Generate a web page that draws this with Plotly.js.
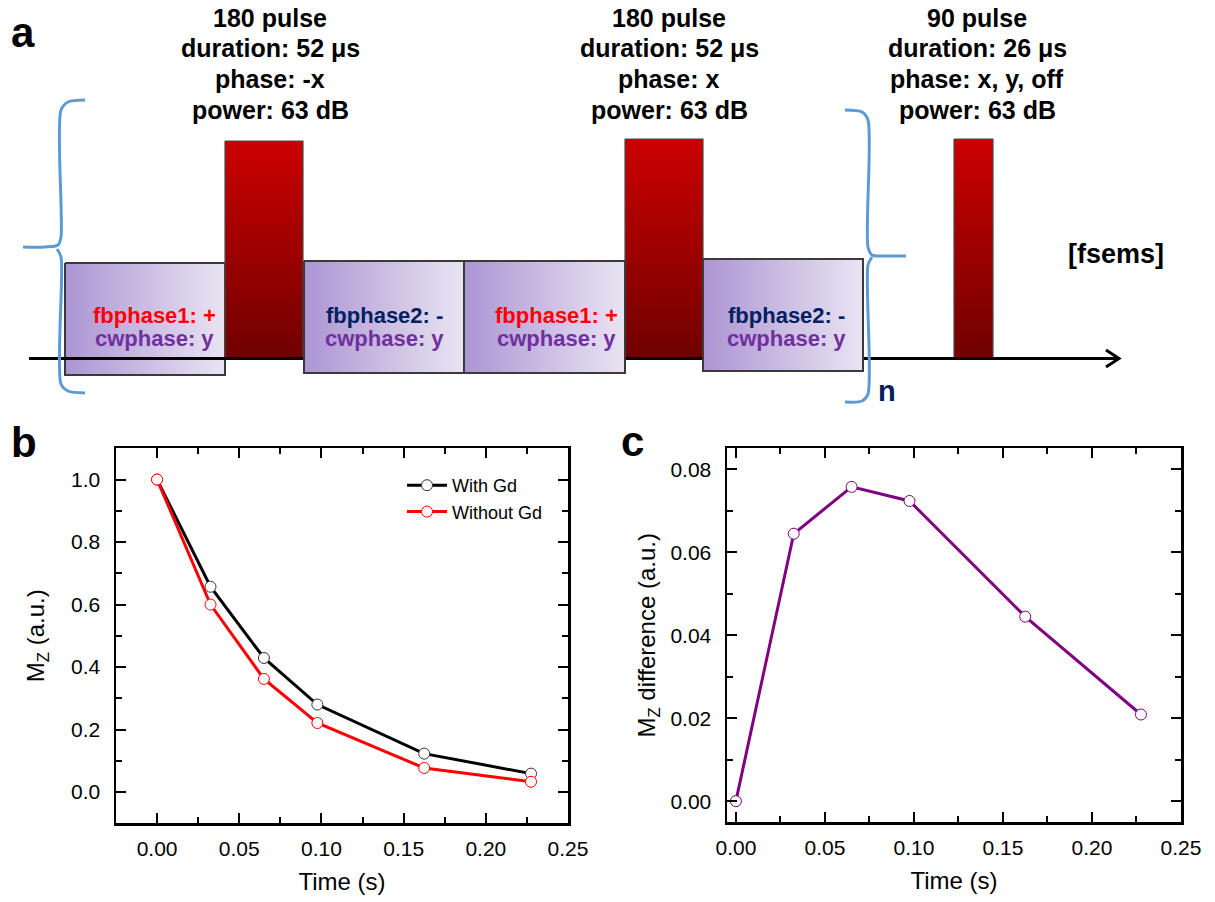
<!DOCTYPE html>
<html>
<head>
<meta charset="utf-8">
<script src="https://cdn.plot.ly/plotly-3.0.1.min.js"></script>
<style>
  html, body { margin: 0; padding: 0; background: #ffffff; }
  #chart { width: 1215px; height: 902px; }
</style>
</head>
<body>
<div id="chart"></div>
<script>
// ---------------- data (panels b and c) ----------------
const timeS        = [0, 0.0325, 0.065, 0.0975, 0.1625, 0.2275];
const mzWithGd     = [1.0, 0.657, 0.429, 0.280, 0.123, 0.059];
const mzWithoutGd  = [1.0, 0.600, 0.362, 0.221, 0.077, 0.033];
const mzDifference = [0, 0.0645, 0.0758, 0.0724, 0.0445, 0.0209];
const seriesNames  = ["With Gd", "Without Gd"];

// ---------------- text of panel a ----------------
const pulseTitles    = ["180 pulse", "180 pulse", "90 pulse"];
const pulseDurations = ["duration: 52 μs", "duration: 52 μs", "duration: 26 μs"];
const pulsePhases    = ["phase: -x", "phase: x", "phase: x, y, off"];
const pulsePowers    = ["power: 63 dB", "power: 63 dB", "power: 63 dB"];
const boxLine1       = ["fbphase1: +", "fbphase2: -", "fbphase1: +", "fbphase2: -"];
const boxLine2       = ["cwphase: y", "cwphase: y", "cwphase: y", "cwphase: y"];
const panelLetters   = ["a", "b", "c"];

// ---------------- diagram geometry (pixel-like coordinates of the sketch axis) ----------------
const geo = {
  pulses: [[225, 303, 141], [625, 703, 139], [954, 993, 139]],   // x0, x1, top
  pulseBase: 358,
  boxes: [[65, 225, 263, 375], [304, 464, 261, 373], [464, 625, 261, 373], [703, 863, 259, 371]],
  boxTextX: [154, 384, 556, 786],
  pulseTextX: [270, 669, 977],
  pulseTextY: [18, 48, 78.5, 109.5],
  boxTextY: [315.5, 338]
};

const FONT = "Liberation Sans, Arial, sans-serif";
const traces = [];

// ---- panel b ----
traces.push({
  x: timeS, y: mzWithGd, name: seriesNames[0], xaxis: "x", yaxis: "y",
  mode: "lines+markers", type: "scatter",
  line: { color: "#000000", width: 3 },
  marker: { symbol: "circle", size: 11, color: "#ffffff", line: { color: "#333333", width: 1 } },
  hoverinfo: "x+y"
});
traces.push({
  x: timeS, y: mzWithoutGd, name: seriesNames[1], xaxis: "x", yaxis: "y",
  mode: "lines+markers", type: "scatter",
  line: { color: "#ff0000", width: 3 },
  marker: { symbol: "circle", size: 11, color: "#ffffff", line: { color: "#ff0000", width: 1 } },
  hoverinfo: "x+y"
});
// ---- panel c ----
traces.push({
  x: timeS, y: mzDifference, name: "difference", xaxis: "x2", yaxis: "y2",
  mode: "lines+markers", type: "scatter", showlegend: false,
  line: { color: "#800080", width: 3 },
  marker: { symbol: "circle", size: 11, color: "#ffffff", line: { color: "#800080", width: 1 } },
  hoverinfo: "x+y"
});

// ---- panel a (sketch) ----
function rectTrace(x0, x1, y0, y1, grad, edge, edgeW) {
  return {
    x: [x0, x1, x1, x0, x0], y: [y0, y0, y1, y1, y0],
    xaxis: "x3", yaxis: "y3", type: "scatter", mode: "lines",
    fill: "toself", fillgradient: grad,
    line: { color: edge, width: edgeW }, showlegend: false, hoverinfo: "skip"
  };
}
const purpleGrad = { type: "horizontal", colorscale: [[0, "#ad95d3"], [1, "#e9e4f2"]] };
function redGrad(top, base) {
  return { type: "vertical", start: top, stop: base, colorscale: [[0, "#cc0000"], [1, "#700000"]] };
}
function lineTrace(xs, ys, color, width, spline) {
  return {
    x: xs, y: ys, xaxis: "x3", yaxis: "y3", type: "scatter", mode: "lines",
    line: { color: color, width: width, shape: spline ? "spline" : "linear", smoothing: 0.8 },
    showlegend: false, hoverinfo: "skip"
  };
}
// box 1 (under the time axis line)
const b0 = geo.boxes[0];
traces.push(rectTrace(b0[0], b0[1], b0[2], b0[3], purpleGrad, "#3a3a3a", 2));
// pulses
geo.pulses.forEach(p => traces.push(rectTrace(p[0], p[1], p[2], geo.pulseBase, redGrad(p[2], geo.pulseBase), "#4a4a4a", 1.2)));
// time axis with arrow
traces.push(lineTrace([29, 1119], [358.5, 358.5], "#000000", 3, false));
traces.push(lineTrace([1106, 1119, 1106], [350, 358.5, 367], "#000000", 3, false));
// other boxes
geo.boxes.slice(1).forEach(b => traces.push(rectTrace(b[0], b[1], b[2], b[3], purpleGrad, "#3a3a3a", 2)));
// braces
const braceBlue = "#5b9bd5";
traces.push(lineTrace([85, 68, 61, 61, 58, 45, 23], [100, 102, 110, 237, 245, 247, 247], braceBlue, 3, true));
traces.push(lineTrace([57, 61, 61, 68, 85], [249, 257, 384, 391, 393], braceBlue, 3, true));
traces.push(lineTrace([845, 862, 868, 868, 872, 885, 906], [110, 112, 120, 247, 255, 256, 256], braceBlue, 3, true));
traces.push(lineTrace([872, 868, 868, 862, 845], [257, 265, 394, 401, 402], braceBlue, 3, true));

// ---------------- annotations ----------------
const ann = [];
function txt(x, y, text, size, color, bold, anchor) {
  ann.push({
    xref: "x3", yref: "y3", x: x, y: y, text: bold ? "<b>" + text + "</b>" : text,
    showarrow: false, xanchor: anchor || "center", yanchor: "middle",
    font: { family: FONT, size: size, color: color }
  });
}
for (let i = 0; i < 3; i++) {
  const lines = [pulseTitles[i], pulseDurations[i], pulsePhases[i], pulsePowers[i]];
  lines.forEach((t, k) => txt(geo.pulseTextX[i], geo.pulseTextY[k], t, 25, "#000000", true));
}
for (let i = 0; i < 4; i++) {
  const c1 = boxLine1[i].indexOf("1") >= 0 ? "#ff0000" : "#002060";
  txt(geo.boxTextX[i], geo.boxTextY[0], boxLine1[i], 22, c1, true);
  txt(geo.boxTextX[i], geo.boxTextY[1], boxLine2[i], 22, "#7030a0", true);
}
txt(1116, 254, "[fsems]", 27, "#000000", true);
txt(887, 391, "n", 29, "#002060", true);
txt(9, 32, panelLetters[0], 42, "#000000", true, "left");
txt(9, 442, panelLetters[1], 42, "#000000", true, "left");
txt(619, 441, panelLetters[2], 42, "#000000", true, "left");

// ---------------- axes ----------------
const H = 902, W = 1215;
function frameAxis(extra) {
  return Object.assign({
    showline: true, linecolor: "#000000", linewidth: 2.5, mirror: "ticks",
    ticks: "inside", ticklen: 10, tickwidth: 2, tickcolor: "#000000",
    showgrid: false, zeroline: false, fixedrange: true,
    tickfont: { family: FONT, size: 21, color: "#000000" }
  }, extra);
}
function minorTicks(dt) {
  return { ticks: "inside", ticklen: 6, tickwidth: 2, tickcolor: "#000000", dtick: dt, tick0: 0, showgrid: false };
}
const titleFont = { family: FONT, size: 24, color: "#000000" };
const layout = {
  width: W, height: H,
  margin: { l: 0, r: 0, t: 0, b: 0 },
  paper_bgcolor: "#ffffff", plot_bgcolor: "rgba(0,0,0,0)",
  font: { family: FONT, color: "#000000" },
  showlegend: true,
  legend: {
    x: 402 / W, y: (H - 467) / H, xanchor: "left", yanchor: "top",
    bgcolor: "rgba(0,0,0,0)", font: { family: FONT, size: 18, color: "#000000" },
    tracegroupgap: 0, itemwidth: 40
  },
  xaxis: frameAxis({
    domain: [116 / W, 568 / W], range: [-0.025, 0.25], anchor: "y",
    tick0: 0, dtick: 0.05, tickformat: ".2f", ticklabelstandoff: 5,
    minor: minorTicks(0.025),
    title: { text: "Time (s)", font: titleFont, standoff: 14 }
  }),
  yaxis: frameAxis({
    domain: [(H - 823.3) / H, (H - 448.3) / H], range: [-0.1, 1.1], anchor: "x",
    tick0: 0, dtick: 0.2, tickformat: ".1f", ticklabelstandoff: 9,
    minor: minorTicks(0.1),
    title: { text: "M<sub>Z</sub> (a.u.)", font: titleFont, standoff: 20 }
  }),
  xaxis2: frameAxis({
    domain: [727 / W, 1181 / W], range: [-0.005, 0.25], anchor: "y2",
    tick0: 0, dtick: 0.05, tickformat: ".2f", ticklabelstandoff: 5,
    minor: minorTicks(0.025),
    title: { text: "Time (s)", font: titleFont, standoff: 14 }
  }),
  yaxis2: frameAxis({
    domain: [(H - 822.3) / H, (H - 448.3) / H], range: [-0.0051, 0.0851], anchor: "x2",
    tick0: 0, dtick: 0.02, tickformat: ".2f", ticklabelstandoff: 9,
    minor: minorTicks(0.01),
    title: { text: "M<sub>Z</sub> difference (a.u.)", font: titleFont, standoff: 8 }
  }),
  xaxis3: { domain: [0, 1], range: [0, W], visible: false, fixedrange: true, anchor: "y3" },
  yaxis3: { domain: [0, 1], range: [H, 0], visible: false, fixedrange: true, anchor: "x3" },
  annotations: ann
};

Plotly.newPlot("chart", traces, layout, { displayModeBar: false, staticPlot: true });
</script>
</body>
</html>
